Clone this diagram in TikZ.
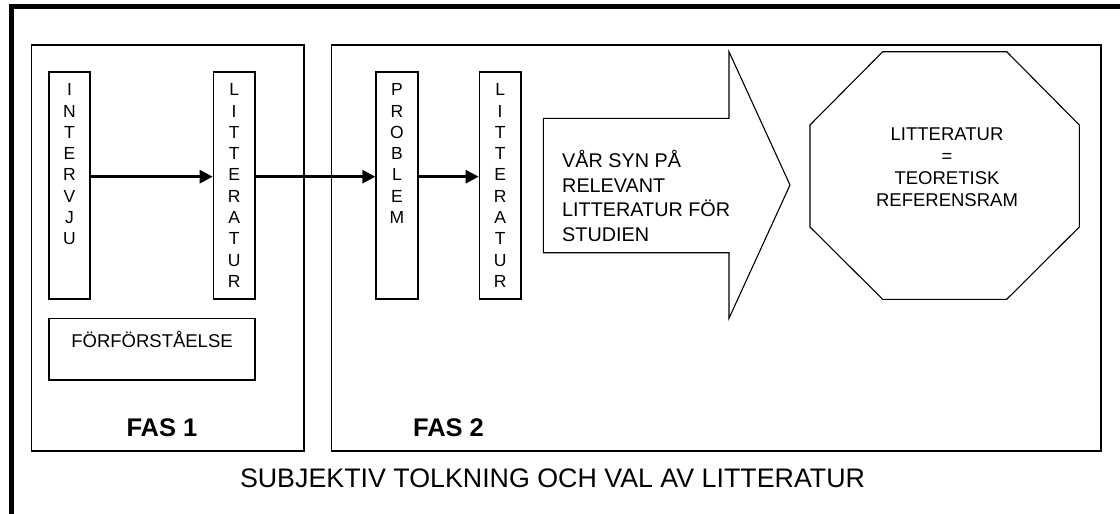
\documentclass[tikz,border=0pt]{standalone}
\usepackage{fontspec}
\setmainfont{Liberation Sans}
\usetikzlibrary{arrows.meta}
\newcommand\myfs[2]{\fontsize{#1}{#2}\selectfont}
\begin{document}
\begin{tikzpicture}[x=1pt,y=-1pt,
  box/.style={draw, line width=1.2pt, inner sep=0pt},
  vtxt/.style={anchor=north, inner sep=0pt, align=center, font=\myfs{17.5}{21.3}},
  lbl/.style={inner sep=0pt, font=\myfs{18.5}{24.8}},
  fas/.style={inner sep=0pt, font=\bfseries\myfs{25.5}{30}},
  arr/.style={line width=2.6pt, -{Triangle[length=13pt,width=13pt]}},
  shapeline/.style={line width=1.1pt, line join=miter}]
\useasboundingbox (0,0) rectangle (1120,514);
\begin{scope}
  \clip (0,0) rectangle (1120,514);
  \draw[line width=5pt] (11.5,6.8) rectangle (1130,516);
\end{scope}
% phase frames
\node[box, minimum width=272.5pt, minimum height=406pt] (fas1) at (167.75,248) {};
\node[box, minimum width=769.3pt, minimum height=406pt] (fas2) at (716.35,248) {};
% vertical boxes
\node[box, minimum width=41pt, minimum height=227pt] (iv) at (69.5,185.5) {};
\node[box, minimum width=41.7pt, minimum height=227pt] (l1) at (234.15,185.5) {};
\node[box, minimum width=42pt, minimum height=227pt] (pr) at (397,185.5) {};
\node[box, minimum width=41.7pt, minimum height=227pt] (l2) at (500.15,185.5) {};
\node[vtxt] (ivt) at (69.5,83.5) {I\\N\\T\\E\\R\\V\\J\\U};
\node[vtxt] (l1t) at (234.15,83.5) {L\\I\\T\\T\\E\\R\\A\\T\\U\\R};
\node[vtxt] (prt) at (397,83.5) {P\\R\\O\\B\\L\\E\\M};
\node[vtxt] (l2t) at (500.15,83.5) {L\\I\\T\\T\\E\\R\\A\\T\\U\\R};
% förförståelse
\node[box, minimum width=206pt, minimum height=61.7pt] (ff) at (152,349.15) {};
\node[lbl] (fft) at (152,340) {FÖRFÖRSTÅELSE};
% arrows
\draw[arr] ([yshift=8.8pt]iv.east) -- ([yshift=8.8pt]l1.west);
\draw[arr] ([yshift=8.8pt]l1.east) -- ([yshift=8.8pt]pr.west);
\draw[arr] ([yshift=8.8pt]pr.east) -- ([yshift=8.8pt]l2.west);
% big block arrow
\draw[shapeline] (543.3,118.3) -- (729,118.3) -- (729,51.7) -- (790,185)
  -- (729,318.3) -- (729,252.7) -- (543.3,252.7) -- cycle;
\node[lbl, anchor=west, align=left, font=\myfs{19.8}{24.8}] (syn) at (562,196) {VÅR SYN PÅ\\RELEVANT\\LITTERATUR FÖR\\STUDIEN};
% octagon
\draw[shapeline] (882.7,51.7) -- (1006.7,51.7) -- (1079.3,125) -- (1079.3,227)
  -- (1006.7,299.3) -- (882.7,299.3) -- (810,227) -- (810,125) -- cycle;
\node[lbl, align=center, font=\myfs{18.5}{22}] (oct) at (947,167) {LITTERATUR\\=\\TEORETISK\\REFERENSRAM};
% phase labels
\node[fas] (f1) at (162,428) {FAS 1};
\node[fas] (f2) at (448.5,428) {FAS 2};
\node[inner sep=0pt, font=\myfs{26.8}{30}] (sub) at (552.5,478) {SUBJEKTIV TOLKNING OCH VAL AV LITTERATUR};
\end{tikzpicture}
\end{document}
